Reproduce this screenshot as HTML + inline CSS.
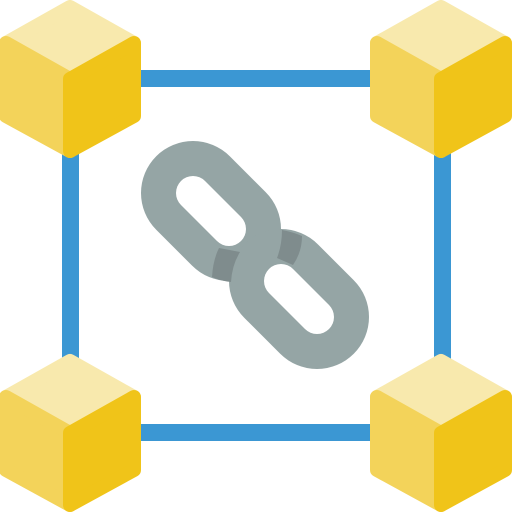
<!DOCTYPE html><html><head><style>html,body{margin:0;padding:0;background:#fff}svg{display:block}</style></head><body>
<svg width="512" height="512" viewBox="0 0 512 512" xmlns="http://www.w3.org/2000/svg">
<defs>
<g id="cube" stroke-linejoin="round" stroke-width="14">
<polygon points="70,7 134,43 70,79 6,43" fill="#f8e9ad" stroke="#f8e9ad"/>
<polygon points="6,43 70,79 70,151 6,116" fill="#f3d35a" stroke="#f3d35a"/>
<polygon points="134,43 134,116 70,151 70,79" fill="#f0c419" stroke="#f0c419"/>
</g>
</defs>
<g fill="#3b97d3">
<rect x="130" y="70" width="252" height="17"/>
<rect x="130" y="424" width="252" height="17"/>
<rect x="62" y="140" width="17" height="230"/>
<rect x="434" y="140" width="17" height="230"/>
</g>
<use href="#cube" x="0" y="0"/>
<use href="#cube" x="371" y="0"/>
<use href="#cube" x="0" y="354"/>
<use href="#cube" x="371" y="354"/>
<g stroke-linecap="round" fill="none">
<line x1="193" y1="193" x2="229" y2="229" stroke="#95a5a5" stroke-width="104"/>
<line x1="193" y1="193" x2="229" y2="229" stroke="#fff" stroke-width="34"/>
<line x1="281" y1="281" x2="317" y2="317" stroke="#95a5a5" stroke-width="104"/>
<line x1="281" y1="281" x2="317" y2="317" stroke="#fff" stroke-width="34"/>
</g>
<path d="M219,248 L240,252 Q232,265 231,282 Q221,281 212,277 Q213,260 219,248 Z" fill="#7f8c8d"/>
<path d="M282,230 Q293,232 302,236 Q302,252 293,265 L277,258 Q282,245 282,230 Z" fill="#7f8c8d"/>
</svg>
</body></html>
